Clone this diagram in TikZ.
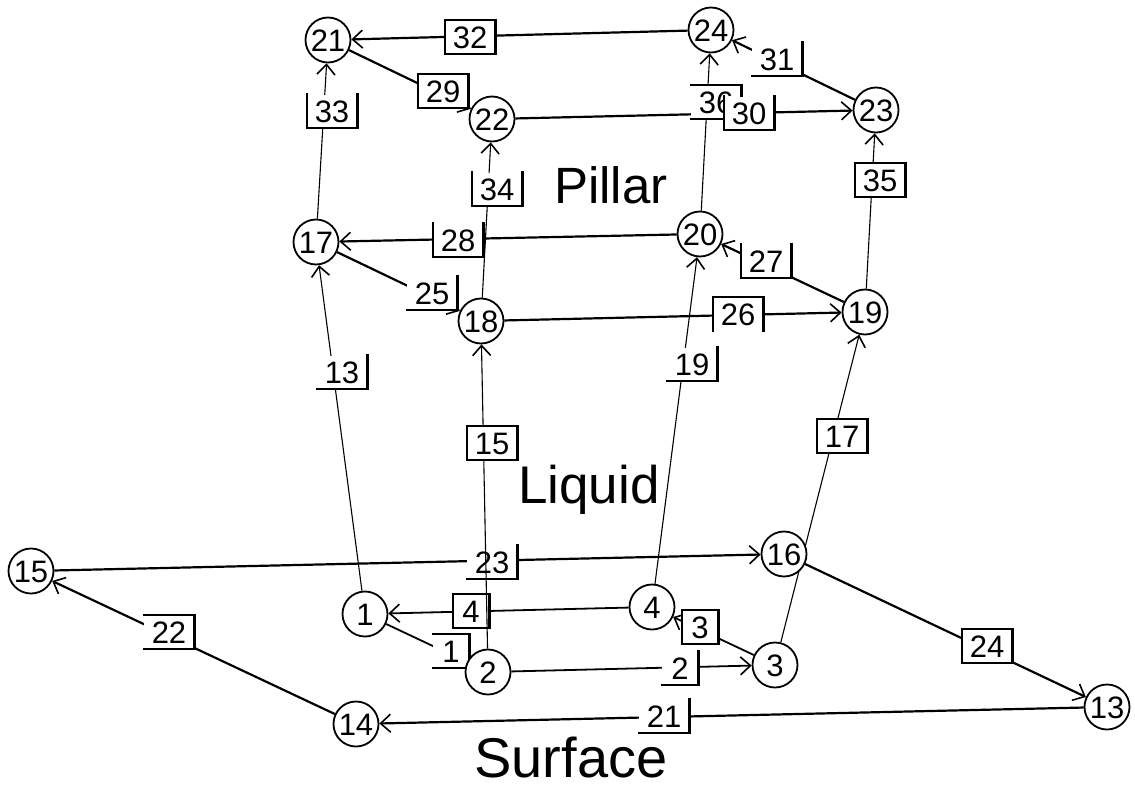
\documentclass[tikz,border=0pt]{standalone}
\usepackage{fontspec}
\setmainfont{Liberation Sans}
\usetikzlibrary{arrows.meta}
\pgfdeclarelayer{bg}
\pgfsetlayers{bg,main}
\newcommand\labT[1]{\draw[side] (#1.north west) -- (#1.north east);}
\newcommand\labB[1]{\draw[side] (#1.south west) -- (#1.south east);}
\newcommand\labL[1]{\draw[side] (#1.north west) -- (#1.south west);}
\newcommand\labR[1]{\draw[side,line width=2.8pt] (#1.north east) -- (#1.south east);}
\begin{document}
\begin{tikzpicture}[x=1pt,y=-1pt,
  num/.style={font=\fontsize{31}{33}\selectfont,text height=22pt,text depth=0pt},
  vert/.style={num,circle,draw,line width=1.8pt,minimum size=45pt,inner sep=0pt,fill=white},
  lab/.style={num,fill=white,inner sep=0pt,minimum height=33pt,minimum width=50pt},
  labi/.style={lab,minimum width=36pt},
  tip/.style={-{Straight Barb[length=10pt,width=18pt,line width=1.6pt]}},
  thk/.style={tip,line width=2.2pt},
  thn/.style={tip,line width=1.1pt},
  side/.style={line width=1.8pt,line cap=rect}
]
\useasboundingbox (0,0) rectangle (1135,787);

% vertices
\node[vert] (n21) at (328,40) {21};
\node[vert] (n24) at (711,30) {24};
\node[vert] (n22) at (492,119) {22};
\node[vert] (n23) at (876,110) {23};
\node[vert] (n17) at (316,242) {17};
\node[vert] (n20) at (700,234) {20};
\node[vert] (n18) at (481,321) {18};
\node[vert] (n19) at (865,312) {19};
\node[vert] (n15) at (31,571) {15};
\node[vert] (n16) at (784,554) {16};
\node[vert] (n1) at (365,614) {1};
\node[vert] (n4) at (652,607) {4};
\node[vert] (n2) at (488,672) {2};
\node[vert] (n3) at (775,665) {3};
\node[vert] (n14) at (356,724) {14};
\node[vert] (n13) at (1107,707) {13};

% region texts
\node[font=\fontsize{51}{55}\selectfont] (tp) at (611,185) {Pillar};
\node[font=\fontsize{53}{57}\selectfont] (tl) at (589,490) {Liquid};
\node[font=\fontsize{56}{58}\selectfont,anchor=base,inner sep=0pt] (ts) at (571,777) {Surface};

\begin{pgfonlayer}{bg}
% edges
\draw[thk] (n24) -- (n21);
\draw[thk] (n21) -- (n22);
\draw[thn] (n17) -- (n21);
\draw[thn] (n18) -- (n22);
\draw[thn] (n20) -- (n24);
\draw[thk] (n22) -- (n23);
\draw[thk] (n23) -- (n24);
\draw[thn] (n19) -- (n23);
\draw[thk] (n20) -- (n17);
\draw[thk] (n17) -- (n18);
\draw[thk] (n19) -- (n20);
\draw[thk] (n18) -- (n19);
\draw[thn] (n1) -- (n17);
\draw[thn] (n4) -- (n20);
\draw[thn] (n3) -- (n19);
\draw[thk] (n15) -- (n16);
\draw[thk,line width=1.8pt] (n4) -- (n1);
\draw[thk,line width=1.8pt] (n1) -- (n2);
\draw[thk,line width=1.8pt] (n3) -- (n4);
\draw[thk,line width=1.8pt] (n2) -- (n3);
\draw[thk] (n16) -- (n13);
\draw[thk] (n13) -- (n14);
\draw[thk] (n14) -- (n15);

% labels
\node[lab] (L32) at (470,37) {32}; \labT{L32}\labB{L32}\labL{L32}\labR{L32}
\node[lab] (L29) at (443,91) {29}; \labT{L29}\labB{L29}\labL{L29}\labR{L29}
\node[lab] (L33) at (332,111) {33}; \labB{L33}\labL{L33}\labR{L33}
\node[lab] (L34) at (497,189) {34}; \labB{L34}\labL{L34}\labR{L34}
\node[lab] (L36) at (716,102) {36}; \labT{L36}\labB{L36}\labR{L36}
\node[lab] (L30) at (749,113) {30}; \labB{L30}\labL{L30}\labR{L30}
\node[lab] (L31) at (777,59) {31}; \labB{L31}\labR{L31}
\node[lab] (L35) at (880,180) {35}; \labT{L35}\labB{L35}\labL{L35}\labR{L35}
\node[lab] (L28) at (458,240) {28}; \labB{L28}\labL{L28}\labR{L28}
\node[lab] (L25) at (432,293) {25}; \labB{L25}\labR{L25}
\node[lab] (L27) at (766,261) {27}; \labB{L27}\labL{L27}\labR{L27}
\node[lab] (L26) at (738,314) {26}; \labT{L26}\labL{L26}\labR{L26}
\node[lab] (L13) at (342,372) {13}; \labB{L13}\labR{L13}
\node[lab] (L19) at (692,364) {19}; \labB{L19}\labR{L19}
\node[lab] (L17) at (842,436) {17}; \labT{L17}\labB{L17}\labL{L17}\labR{L17}
\node[lab] (L23) at (492,562) {23}; \labB{L23}\labR{L23}
\node[lab] (L24) at (987,646) {24}; \labT{L24}\labB{L24}\labL{L24}\labR{L24}
\node[lab] (L22) at (169,632) {22}; \labT{L22}\labB{L22}\labR{L22}
\node[lab] (L21) at (664,716) {21}; \labB{L21}\labR{L21}
\node[labi] (L4) at (471,611) {4}; \labT{L4}\labB{L4}\labL{L4}\labR{L4}
\node[labi] (L1) at (451,651) {1}; \labT{L1}\labB{L1}\labR{L1}
\node[labi] (L3) at (700,627) {3}; \labT{L3}\labB{L3}\labL{L3}\labR{L3}
\node[labi] (L2) at (680,668) {2}; \labB{L2}\labR{L2}

% edge 15 drawn over labels 23 and 4
\draw[thn] (n2) -- (n18);
\node[lab] (L15) at (492,443) {15}; \labT{L15}\labB{L15}\labL{L15}\labR{L15}
\end{pgfonlayer}
\end{tikzpicture}
\end{document}
